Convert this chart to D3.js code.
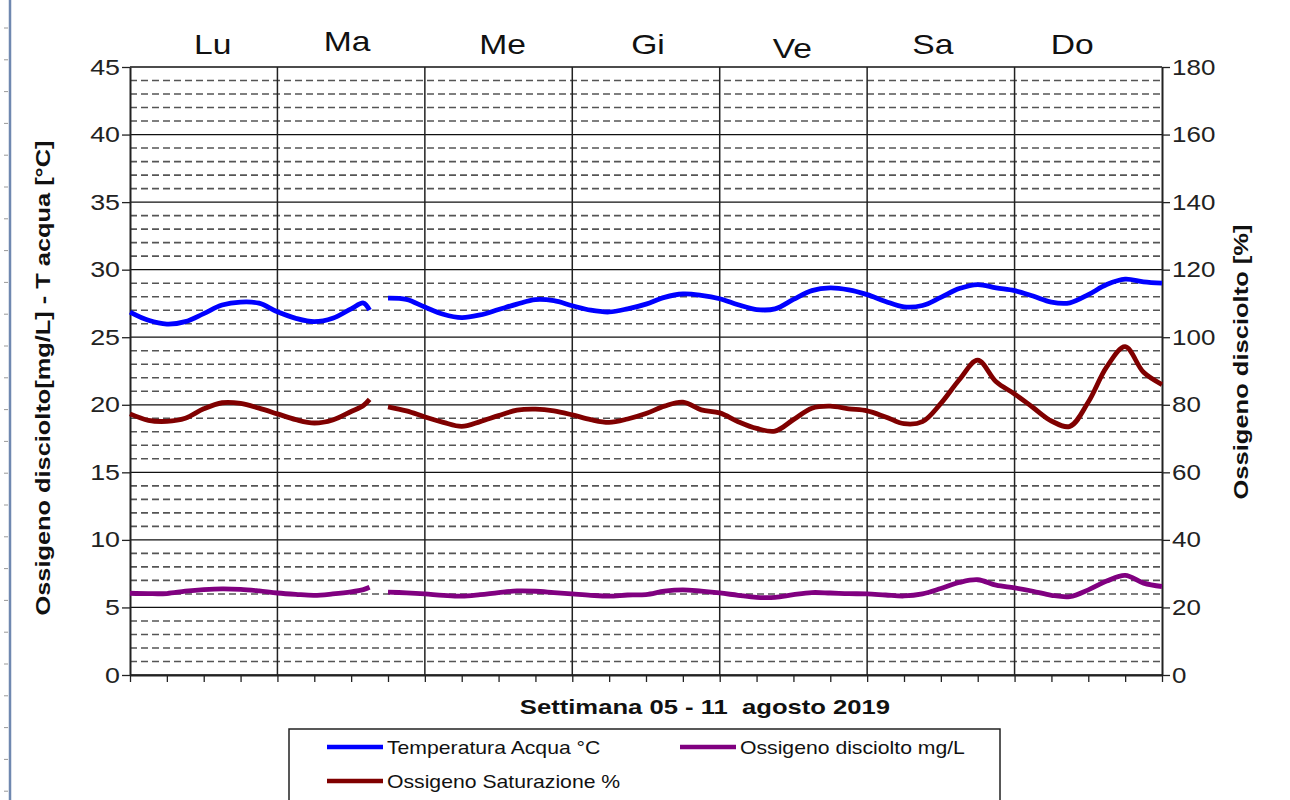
<!DOCTYPE html>
<html><head><meta charset="utf-8">
<script src="https://cdn.jsdelivr.net/npm/d3@7/dist/d3.min.js"></script>
<style>
body{margin:0;background:#fff;}
svg{display:block;font-family:Arial,"Liberation Sans",sans-serif;}
</style>
</head><body>
<svg id="chart" width="1290" height="800"></svg>
<script>
// ---------- DATA ----------
const days = ["Lu", "Ma", "Me", "Gi", "Ve", "Sa", "Do"];
// hours from Monday 00:00 (null values mark the data gap)
const hours = [0,3,6,9,12,15,18,21,24,27,30,33,36,38,39,40.5,
  42,45,48,51,54,57,60,63,66,69,72,75,78,81,84,87,90,93,96,99,102,105,108,111,114,117,120,
  123,126,129,132,135,138,141,144,147,150,153,156,159,162,165,168];
const temperaturaAcqua = [26.86,26.25,25.97,26.15,26.75,27.38,27.6,27.52,26.88,26.4,26.15,26.4,27.1,27.53,27.0,null,
  27.9,27.8,27.23,26.7,26.45,26.65,27.05,27.45,27.78,27.7,27.33,27.0,26.87,27.1,27.45,27.95,28.2,28.1,27.85,27.4,27.05,27.1,27.8,28.45,28.65,28.5,28.15,
  27.65,27.25,27.35,27.95,28.6,28.9,28.65,28.45,28.05,27.6,27.55,28.15,28.9,29.3,29.1,29.0];
const ossigenoSaturazione = [77.3,75.4,75.1,76.0,78.8,80.6,80.4,79.0,77.3,75.6,74.6,75.5,78.0,79.8,81.6,null,
  79.4,78.2,76.4,74.8,73.6,75.0,76.8,78.4,78.7,78.2,77.0,75.6,74.8,75.8,77.4,79.6,80.8,78.5,77.6,75.0,73.0,72.2,75.6,79.0,79.6,78.8,78.2,
  76.4,74.4,75.0,80.4,87.4,93.2,86.8,83.2,79.2,75.2,73.6,80.8,91.2,97.2,89.6,86.0];
const ossigenoDisciolto = [6.05,6.02,6.03,6.2,6.32,6.38,6.34,6.22,6.07,5.97,5.9,6.0,6.15,6.32,6.49,null,
  6.14,6.08,6.0,5.9,5.84,5.95,6.1,6.22,6.2,6.1,6.0,5.9,5.84,5.92,5.95,6.2,6.3,6.2,6.07,5.9,5.75,5.75,5.95,6.1,6.07,6.02,6.0,
  5.92,5.85,6.0,6.4,6.85,7.05,6.65,6.45,6.2,5.9,5.8,6.3,6.95,7.38,6.8,6.55];
const leftTicks = [0,5,10,15,20,25,30,35,40,45];
const rightTicks = [0,20,40,60,80,100,120,140,160,180];
const leftTitle = "Ossigeno disciolto[mg/L] - T acqua [°C]";
const rightTitle = "Ossigeno disciolto [%]";
const xTitle = "Settimana 05 - 11  agosto 2019";
const legendLabels = ["Temperatura Acqua °C", "Ossigeno disciolto mg/L", "Ossigeno Saturazione %"];

// ---------- LAYOUT ----------
const svg = d3.select("#chart");
const L = 130, R = 1162, T = 67, B = 675;
const x = d3.scaleLinear().domain([0, 168]).range([L, R]);
const yL = d3.scaleLinear().domain([0, 45]).range([B, T]);
const yR = d3.scaleLinear().domain([0, 180]).range([B, T]);
const colors = {temp: "#0000ff", sat: "#800000", mg: "#800080"};

// the original picture has horizontally widened lettering
function stretch(sel, f) {
  sel.each(function () {
    const w = this.getComputedTextLength();
    d3.select(this).attr("textLength", w * f).attr("lengthAdjust", "spacingAndGlyphs");
  });
}

// left page frame line
svg.append("line").attr("x1", 10).attr("x2", 10).attr("y1", 0).attr("y2", 800)
  .attr("stroke", "#6f88b0").attr("stroke-width", 2.5);
svg.append("g").selectAll("line").data(d3.range(28, 800, 31.8)).join("line")
  .attr("x1", 4).attr("x2", 8).attr("y1", d => d).attr("y2", d => d)
  .attr("stroke", "#999").attr("stroke-width", 1);

// grid: dashed minor
const minor = d3.range(0, 46).filter(v => v % 5 !== 0);
svg.append("g").selectAll("line").data(minor).join("line")
  .attr("x1", L).attr("x2", R).attr("y1", d => yL(d)).attr("y2", d => yL(d))
  .attr("stroke", "#555").attr("stroke-width", 1.6).attr("stroke-dasharray", "7,4");
// major horizontal
svg.append("g").selectAll("line").data(leftTicks).join("line")
  .attr("x1", L).attr("x2", R).attr("y1", d => yL(d)).attr("y2", d => yL(d))
  .attr("stroke", "#111").attr("stroke-width", 1.3);
// vertical day separators
svg.append("g").selectAll("line").data(d3.range(1, 7)).join("line")
  .attr("x1", d => x(d * 24)).attr("x2", d => x(d * 24)).attr("y1", T).attr("y2", B)
  .attr("stroke", "#222").attr("stroke-width", 1.5);

// axes
const axL = svg.append("g").attr("transform", `translate(${L},0)`)
  .call(d3.axisLeft(yL).tickValues(leftTicks).tickSize(8).tickSizeOuter(0).tickPadding(2));
const axR = svg.append("g").attr("transform", `translate(${R},0)`)
  .call(d3.axisRight(yR).tickValues(rightTicks).tickSize(8).tickSizeOuter(0).tickPadding(2));
const axB = svg.append("g").attr("transform", `translate(0,${B})`)
  .call(d3.axisBottom(x).tickValues(d3.range(0, 169, 6)).tickSize(7).tickSizeOuter(0).tickFormat(""));
[axL, axR, axB].forEach(a => {
  a.select(".domain").attr("stroke", "#222").attr("stroke-width", 2);
  a.selectAll(".tick line").attr("stroke", "#222").attr("stroke-width", 1.3);
  a.selectAll("text").attr("font-size", 22).attr("fill", "#222")
    .attr("font-family", "Arial, 'Liberation Sans', sans-serif");
});
stretch(axL.selectAll("text"), 1.22);
stretch(axR.selectAll("text"), 1.18);

// day labels
const dayNudge = [[9,54],[-4,51],[4,54],[2,54],[-1,58],[-8,54],[-16,54]];
const dayText = svg.append("g").selectAll("text").data(days).join("text")
  .attr("x", (d, i) => x(i * 24 + 12) + dayNudge[i][0]).attr("y", (d, i) => dayNudge[i][1])
  .attr("text-anchor", "middle").attr("font-size", 28).attr("fill", "#111").text(d => d);
stretch(dayText, 1.2);

// titles
svg.append("text").attr("transform", "translate(50,378) rotate(-90)")
  .attr("text-anchor", "middle").attr("font-weight", "bold").attr("font-size", 21).attr("fill", "#111")
  .attr("textLength", 475).attr("lengthAdjust", "spacingAndGlyphs")
  .text(leftTitle);
svg.append("text").attr("transform", "translate(1248,362) rotate(-90)")
  .attr("text-anchor", "middle").attr("font-weight", "bold").attr("font-size", 21).attr("fill", "#111")
  .attr("textLength", 275).attr("lengthAdjust", "spacingAndGlyphs")
  .text(rightTitle);
const xt = svg.append("text").attr("x", 705).attr("y", 714)
  .attr("text-anchor", "middle").attr("font-weight", "bold").attr("font-size", 21).attr("fill", "#111")
  .style("white-space", "pre")
  .text(xTitle);
stretch(xt, 1.22);

// series
const series = [
  {vals: temperaturaAcqua, y: yL, c: colors.temp},
  {vals: ossigenoSaturazione, y: yR, c: colors.sat},
  {vals: ossigenoDisciolto, y: yL, c: colors.mg}
];
series.forEach(s => {
  const pts = hours.map((h, i) => [h, s.vals[i]]);
  const line = d3.line().defined(d => d[1] != null)
    .x(d => x(d[0])).y(d => s.y(d[1])).curve(d3.curveCatmullRom.alpha(0.5));
  svg.append("path").datum(pts).attr("d", line).attr("fill", "none")
    .attr("stroke", s.c).attr("stroke-width", 4.8).attr("stroke-linejoin", "round");
});

// legend
const lg = svg.append("g");
lg.append("rect").attr("x", 289).attr("y", 729).attr("width", 711).attr("height", 90)
  .attr("fill", "#fff").attr("stroke", "#222").attr("stroke-width", 1.5);
const legendItems = [
  {t: legendLabels[0], c: colors.temp, lx: 327, ly: 747},
  {t: legendLabels[1], c: colors.mg, lx: 680, ly: 747},
  {t: legendLabels[2], c: colors.sat, lx: 327, ly: 781}
];
legendItems.forEach(it => {
  lg.append("line").attr("x1", it.lx).attr("x2", it.lx + 56).attr("y1", it.ly).attr("y2", it.ly)
    .attr("stroke", it.c).attr("stroke-width", 4.5);
  const t = lg.append("text").attr("x", it.lx + 60).attr("y", it.ly + 7).attr("font-size", 19)
    .attr("fill", "#111").text(it.t);
  stretch(t, 1.115);
});
</script>
</body></html>
